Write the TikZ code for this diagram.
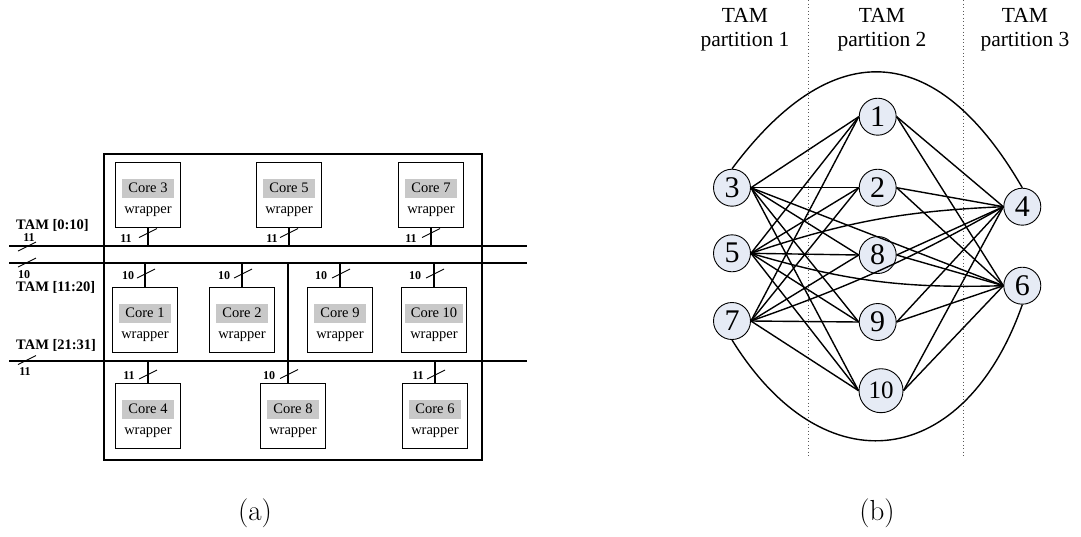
\documentclass[tikz,border=0pt]{standalone}
\usepackage{fontspec}
\newfontfamily\tnr{Liberation Serif}
\definecolor{nodefill}{RGB}{230,235,245}
\definecolor{corefill}{RGB}{200,200,200}

% one core: framed box, grey name tag and the word "wrapper"
\newcommand\placecore[4]{%
  \node[corebox, anchor=north] (#1) at (#2,#3) {};
  \node[coretag] (#1t) at (#2,#3+26) {Core #4};
  \node[wraptag] (#1w) at (#2,#3+50) {wrapper};
}
% short slanted bar marking a bus width
\newcommand\tickat[2]{\draw[tick] (#1-9,#2+4.5) -- (#1+9,#2-4.5);}

\begin{document}
\begin{tikzpicture}[x=1pt,y=-1pt,
  corebox/.style={draw, line width=1.2pt, minimum width=65pt, minimum height=65pt, inner sep=0pt},
  coretag/.style={fill=corefill, inner xsep=6pt, inner ysep=0pt, minimum height=19pt, font=\tnr\fontsize{14.5}{17}\selectfont},
  wraptag/.style={inner sep=0pt, font=\tnr\fontsize{14.5}{17}\selectfont},
  bus/.style={line width=1.9pt},
  stub/.style={line width=1.6pt},
  tick/.style={line width=0.9pt},
  wlabel/.style={font=\tnr\bfseries\fontsize{12}{14}\selectfont, inner sep=0pt},
  buslabel/.style={font=\tnr\bfseries\fontsize{14.5}{17}\selectfont, inner sep=0pt, anchor=west},
  vertex/.style={circle, draw, line width=0.9pt, fill=nodefill, minimum size=37pt, inner sep=0pt, font=\tnr\fontsize{30}{32}\selectfont},
  edge/.style={line width=1.4pt},
  part/.style={align=center, font=\tnr\fontsize{21.5}{24}\selectfont},
  sep/.style={line width=1pt, gray!70!black, dash pattern=on 1pt off 2.5pt},
  sublabel/.style={font=\fontsize{29}{32}\selectfont}
]
\useasboundingbox (0,0) rectangle (1081,536);

%% ---------------- (a) SoC with three TAM buses ----------------
\draw[line width=1.3pt] (104,154) rectangle (482,460);

\coordinate (busA) at (9,246);   \coordinate (busAe) at (527,246);
\coordinate (busB) at (9,263.3); \coordinate (busBe) at (527,263.3);
\coordinate (busC) at (9,361);   \coordinate (busCe) at (527,361);
\draw[bus] (busA) -- (busAe);
\draw[bus] (busB) -- (busBe);
\draw[bus] (busC) -- (busCe);

\node[buslabel] (tamA) at (16,225) {TAM [0:10]};
\node[buslabel] (tamB) at (16,287) {TAM [11:20]};
\node[buslabel] (tamC) at (16,345) {TAM [21:31]};
\node[wlabel] (wA) at (29,238) {11};
\node[wlabel] (wB) at (24,275) {10};
\node[wlabel] (wC) at (25,372) {11};
\tickat{27}{246.5}
\tickat{27}{262.5}
\tickat{27}{360}

\placecore{c3}{148}{162}{3}
\placecore{c5}{289}{162}{5}
\placecore{c7}{431}{162}{7}
\placecore{c1}{145}{287}{1}
\placecore{c2}{242}{287}{2}
\placecore{c9}{340}{287}{9}
\placecore{c10}{434}{287}{10}
\placecore{c4}{148}{383}{4}
\placecore{c8}{293}{383}{8}
\placecore{c6}{435}{383}{6}

% cores on TAM [0:10]
\draw[stub] (c3.south) -- (c3.south |- busA);
\draw[stub] (c5.south) -- (c5.south |- busA);
\draw[stub] (c7.south) -- (c7.south |- busA);
\tickat{148}{233} \tickat{289}{233} \tickat{431}{233}
\node[wlabel] (w3) at (126,239) {11};
\node[wlabel] (w5) at (272,239) {11};
\node[wlabel] (w7) at (411,239) {11};

% cores on TAM [11:20]
\draw[stub] (c1.north) -- (c1.north |- busB);
\draw[stub] (c2.north) -- (c2.north |- busB);
\draw[stub] (c9.north) -- (c9.north |- busB);
\draw[stub] (c10.north) -- (c10.north |- busB);
\coordinate (j8) at (288,263.3);
\draw[stub] (j8) -- (j8 |- c8.north);
\tickat{146}{273.5} \tickat{243}{273.5} \tickat{341}{273.5} \tickat{435}{273.5}
\tickat{289}{374}
\node[wlabel] (w1) at (128,275.5) {10};
\node[wlabel] (w2) at (224,275.5) {10};
\node[wlabel] (w9) at (321,275.5) {10};
\node[wlabel] (w10) at (415,275.5) {10};
\node[wlabel] (w8) at (269,376) {10};

% cores on TAM [21:31]
\draw[stub] (c4.north) -- (c4.north |- busC);
\draw[stub] (c6.north) -- (c6.north |- busC);
\tickat{148}{374.5} \tickat{436}{374.5}
\node[wlabel] (w4) at (129,376) {11};
\node[wlabel] (w6) at (418,376) {11};

\node[sublabel] (suba) at (255,513) {(a)};

%% ---------------- (b) core assignment graph ----------------
\draw[sep] (808,0) -- (808,457);
\draw[sep] (963,0) -- (963,457);
\node[part] (p1) at (745,30) {TAM\\partition 1};
\node[part] (p2) at (882,30) {TAM\\partition 2};
\node[part] (p3) at (1025,30) {TAM\\partition 3};

\node[vertex] (n3) at (732,187.7) {3};
\node[vertex] (n5) at (732,253.3) {5};
\node[vertex] (n7) at (732,321) {7};
\node[vertex] (n1) at (877.7,116.7) {1};
\node[vertex] (n2) at (877.7,187.7) {2};
\node[vertex] (n8) at (877.7,255) {8};
\node[vertex] (n9) at (877.7,322) {9};
\node[vertex, minimum size=44pt, font=\tnr\fontsize{25}{28}\selectfont] (n10) at (881,390.7) {10};
\node[vertex] (n4) at (1022.3,206.7) {4};
\node[vertex] (n6) at (1022.3,285.7) {6};

% partition 1 to partition 2
\foreach \a in {n3,n5,n7}
  \foreach \b in {n1,n2,n8,n9,n10}
    \draw[edge] (\a.east) -- (\b.west);
% partition 2 to partition 3
\foreach \a in {n1,n2,n8,n9,n10}
  \foreach \b in {n4,n6}
    \draw[edge] (\a.east) -- (\b.west);
% partition 1 to partition 3
\draw[edge] (n3.east) -- (n6.west);
\draw[edge] (n5.east) to[bend left=8] (n4.west);
\draw[edge] (n5.east) to[bend right=9] (n6.west);
\draw[edge] (n7.east) to[bend right=5] (n4.west);
\draw[edge] (n3.north) .. controls (838,27) and (941,47) .. (n4.north);
\draw[edge] (n7.south) .. controls (825,490) and (965,468) .. (n6.south);

\node[sublabel] (subb) at (877,513) {(b)};
\end{tikzpicture}
\end{document}
